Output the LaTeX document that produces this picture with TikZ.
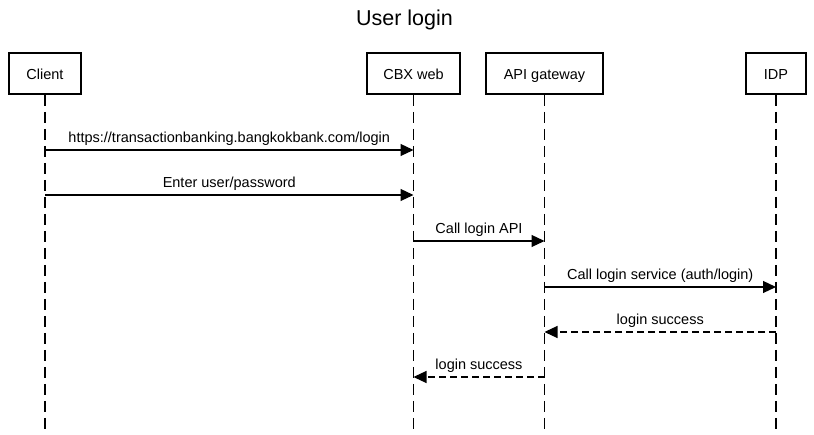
\documentclass[tikz,border=0pt]{standalone}
\usepackage{fontspec}
\setmainfont{Liberation Sans}
\usetikzlibrary{arrows.meta}
\begin{document}
\begin{tikzpicture}[x=1pt,y=-1pt,
  actor/.style={draw=black, line width=2pt, minimum height=41pt, inner sep=0pt,
    text height=14pt, text depth=1pt, font=\fontsize{14.5}{17}\selectfont},
  life/.style={line width=1.1pt, dash pattern=on 11pt off 6pt},
  msg/.style={line width=1.2pt, -{Triangle[length=13pt,width=12pt]}},
  ret/.style={msg, dash pattern=on 6.6pt off 4.4pt},
  lbl/.style={font=\fontsize{14.5}{17}\selectfont, anchor=base, inner sep=0pt, yshift=7.5pt}]
\useasboundingbox (0,0) rectangle (814,435);
\node[font=\fontsize{21.5}{25}\selectfont, anchor=base, inner sep=0pt] (title) at (404.5,26) {User login};

\node[actor, minimum width=72pt] (client) at (45,73.5) {Client};
\node[actor, minimum width=93pt] (cbx) at (413.5,73.5) {CBX web};
\node[actor, minimum width=117pt] (api) at (544.5,73.5) {API gateway};
\node[actor, minimum width=60pt] (idp) at (776,73.5) {IDP};

\coordinate (clientend) at (45,436);
\coordinate (cbxend) at (413.5,436);
\coordinate (apiend) at (544.5,436);
\coordinate (idpend) at (776,436);

\draw[life] (client.south) -- (clientend);
\draw[life] (cbx.south) -- (cbxend);
\draw[life] (api.south) -- (apiend);
\draw[life] (idp.south) -- (idpend);

\draw[msg] (client.south |- 0,150) -- node[lbl] {https://transactionbanking.bangkokbank.com/login} (cbx.south |- 0,150);
\draw[msg] (client.south |- 0,195) -- node[lbl] {Enter user/password} (cbx.south |- 0,195);
\draw[msg] (cbx.south |- 0,241) -- node[lbl] {Call login API} (api.south |- 0,241);
\draw[msg] (api.south |- 0,287) -- node[lbl] {Call login service (auth/login)} (idp.south |- 0,287);
\draw[ret] (idp.south |- 0,332) -- node[lbl] {login success} (api.south |- 0,332);
\draw[ret] (api.south |- 0,377) -- node[lbl] {login success} (cbx.south |- 0,377);
\end{tikzpicture}
\end{document}
